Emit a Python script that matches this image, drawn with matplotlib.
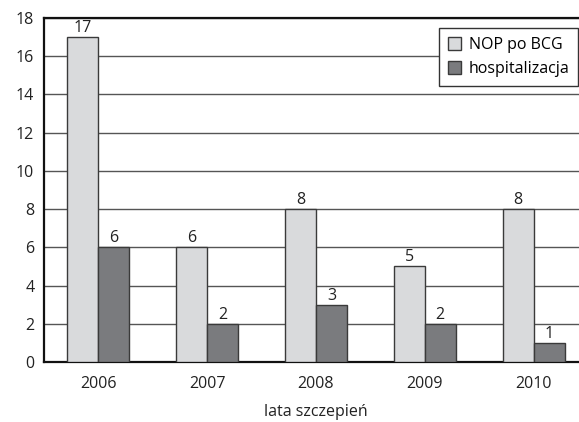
import matplotlib.pyplot as plt
import numpy as np

plt.rcParams['font.family'] = ['Open Sans', 'DejaVu Sans']

years = ['2006', '2007', '2008', '2009', '2010']
nop_bcg = [17, 6, 8, 5, 8]
hospitalizacja = [6, 2, 3, 2, 1]

fig = plt.figure(figsize=(5.79, 4.22), dpi=100)
ax = fig.add_axes([44 / 579, 60 / 422, 544 / 579, 344 / 422])

x = np.arange(len(years))
w = 0.285
b1 = ax.bar(x - w / 2, nop_bcg, w, color='#d9dadc', edgecolor='#3a3a3a',
            linewidth=1, label='NOP po BCG', zorder=3)
b2 = ax.bar(x + w / 2, hospitalizacja, w, color='#7a7b7e', edgecolor='#3a3a3a',
            linewidth=1, label='hospitalizacja', zorder=3)

for bars in (b1, b2):
    for r in bars:
        ax.text(r.get_x() + r.get_width() / 2, r.get_height() + 0.05,
                '{:d}'.format(int(r.get_height())), ha='center', va='bottom',
                fontsize=11.5, color='#222222')

ax.set_xlim(-0.5, 4.5)
ax.set_ylim(0, 18)
ax.set_yticks(range(0, 19, 2))
ax.set_xticks(x)
ax.set_xticklabels(years)
ax.yaxis.grid(True, color='#555555', linewidth=1)
ax.set_axisbelow(True)

for s in ('left', 'bottom', 'top'):
    ax.spines[s].set_linewidth(1.6)
    ax.spines[s].set_color('#111111')
ax.spines['right'].set_visible(False)

ax.tick_params(axis='both', length=0, labelsize=11.5, colors='#222222')
ax.tick_params(axis='x', pad=10)
ax.tick_params(axis='y', pad=7)
ax.set_xlabel('lata szczepień', fontsize=11.5, color='#222222', labelpad=9)

leg = ax.legend(loc='upper right', bbox_to_anchor=(0.982, 0.971), borderaxespad=0,
                fontsize=11.5, fancybox=False, framealpha=1, edgecolor='#333333',
                handlelength=0.85, handleheight=0.85, handletextpad=0.45,
                labelspacing=0.5, borderpad=0.55)
leg.get_frame().set_linewidth(1)

plt.savefig('out.png', dpi=100)
